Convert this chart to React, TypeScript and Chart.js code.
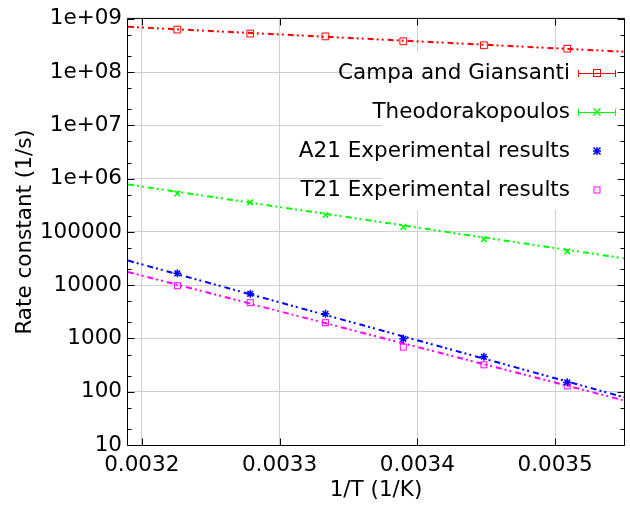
import React, { useEffect, useRef } from 'react';
import { Chart, registerables } from 'chart.js';

Chart.register(...registerables);

// 1/T values (1/K) of the measured points
const invT = [0.0032258, 0.0032787, 0.0033333, 0.0033898, 0.0034483, 0.0035088];
// Rate constants (1/s)
const campa = [6.3e8, 5.3e8, 4.7e8, 3.8e8, 3.2e8, 2.76e8];
const theo = [5.27e5, 3.6e5, 2.08e5, 1.24e5, 7.3e4, 4.3e4];
const a21 = [1.67e4, 6.9e3, 2.9e3, 985, 454, 150];
const t21 = [9.8e3, 4.7e3, 1.98e3, 690, 321, 129];
// Fitted Arrhenius lines (end points at the axis limits)
const fitX = [0.00319, 0.00355];
const campaFit = [7.1e8, 2.42e8];
const theoFit = [7.8e5, 3.2e4];
const a21Fit = [2.9e4, 79];
const t21Fit = [1.77e4, 68.6];
// Axes
const yTicks = [10, 100, 1000, 10000, 100000, 1e6, 1e7, 1e8, 1e9];
const yTickLabels = ['10', '100', '1000', '10000', '100000', '1e+06', '1e+07', '1e+08', '1e+09'];
const yMinorTicks = [20, 50, 200, 500, 2000, 5000, 2e4, 5e4, 2e5, 5e5, 2e6, 5e6, 2e7, 5e7, 2e8, 5e8];
const xTicks = [0.0032, 0.0033, 0.0034, 0.0035];
const xTickLabels = ['0.0032', '0.0033', '0.0034', '0.0035'];
const legendLabels = ['Campa and Giansanti', 'Theodorakopoulos', 'A21 Experimental results', 'T21 Experimental results'];

const RED = '#ff0000';
const GREEN = '#00ff00';
const BLUE = '#0000ff';
const MAGENTA = '#ff00ff';
const FONT = '"DejaVu Sans", sans-serif';
const FS = 21.5;
const DASH = [6, 3, 2, 3, 2, 4];

const pts = (xs: number[], ys: number[]) => xs.map((x, i) => ({ x, y: ys[i] }));

export default function App() {
  const ref = useRef<HTMLCanvasElement>(null);

  useEffect(() => {
    document.body.style.margin = '0';
    const canvas = ref.current!;

    const sqDot = document.createElement('canvas');
    sqDot.width = 11;
    sqDot.height = 11;
    const sc = sqDot.getContext('2d')!;
    sc.strokeStyle = MAGENTA;
    sc.lineWidth = 1;
    sc.strokeRect(2.5, 2.5, 6, 6);
    sc.fillStyle = MAGENTA;
    sc.fillRect(5, 5, 1, 1);

    const drawRect = (ctx: CanvasRenderingContext2D, x: number, y: number, color: string) => {
      ctx.strokeStyle = color;
      ctx.lineWidth = 1;
      ctx.strokeRect(Math.round(x) - 3.5, Math.round(y) - 3.5, 7, 7);
    };
    const drawX = (ctx: CanvasRenderingContext2D, x: number, y: number, color: string) => {
      ctx.strokeStyle = color;
      ctx.lineWidth = 1.5;
      ctx.beginPath();
      ctx.moveTo(x - 3.5, y - 3.5); ctx.lineTo(x + 3.5, y + 3.5);
      ctx.moveTo(x - 3.5, y + 3.5); ctx.lineTo(x + 3.5, y - 3.5);
      ctx.stroke();
    };
    const drawStar = (ctx: CanvasRenderingContext2D, x: number, y: number, color: string) => {
      ctx.strokeStyle = color;
      ctx.lineWidth = 1.5;
      ctx.beginPath();
      ctx.moveTo(x - 3.5, y - 3.5); ctx.lineTo(x + 3.5, y + 3.5);
      ctx.moveTo(x - 3.5, y + 3.5); ctx.lineTo(x + 3.5, y - 3.5);
      ctx.moveTo(x - 4, y); ctx.lineTo(x + 4, y);
      ctx.moveTo(x, y - 4); ctx.lineTo(x, y + 4);
      ctx.stroke();
    };

    const gnuplotPlugin = {
      id: 'gnuplotLook',
      beforeDraw(ch: any) {
        const { ctx, width, height } = ch;
        ctx.save();
        ctx.fillStyle = '#ffffff';
        ctx.fillRect(0, 0, width, height);
        ctx.restore();
      },
      beforeDatasetsDraw(ch: any) {
        const { ctx, chartArea } = ch;
        ctx.save();
        ctx.fillStyle = '#ffffff';
        ctx.fillRect(382, 52, chartArea.right - 382, 158);
        ctx.restore();
      },
      afterDatasetsDraw(ch: any) {
        const { ctx, chartArea } = ch;
        const { left, right, top, bottom } = chartArea;
        const ys = ch.scales.y;
        const xs = ch.scales.x;
        ctx.save();
        ctx.strokeStyle = '#000000';
        ctx.lineWidth = 1;
        ctx.beginPath();
        const L = left - 0.5, R = right + 0.5, T = top - 0.5, B = bottom + 0.5;
        ctx.moveTo(L, T); ctx.lineTo(R, T); ctx.lineTo(R, B); ctx.lineTo(L, B); ctx.closePath();
        yTicks.forEach((v) => {
          const p = Math.round(ys.getPixelForValue(v)) + 0.5;
          ctx.moveTo(L, p); ctx.lineTo(L + 7, p);
          ctx.moveTo(R, p); ctx.lineTo(R - 7, p);
        });
        yMinorTicks.forEach((v) => {
          const p = Math.round(ys.getPixelForValue(v)) + 0.5;
          ctx.moveTo(L, p); ctx.lineTo(L + 4, p);
          ctx.moveTo(R, p); ctx.lineTo(R - 4, p);
        });
        xTicks.forEach((v) => {
          const p = Math.round(xs.getPixelForValue(v)) + 0.5;
          ctx.moveTo(p, B); ctx.lineTo(p, B - 7);
          ctx.moveTo(p, T); ctx.lineTo(p, T + 7);
        });
        ctx.stroke();
        ctx.restore();
      },
      afterDraw(ch: any) {
        const { ctx } = ch;
        const baselines = [79, 118, 157, 196];
        ctx.save();
        ctx.font = `${FS}px ${FONT}`;
        ctx.fillStyle = '#000000';
        ctx.textAlign = 'right';
        ctx.textBaseline = 'alphabetic';
        legendLabels.forEach((t, i) => ctx.fillText(t, 570, baselines[i]));
        const mx = 597;
        const colors = [RED, GREEN];
        [0, 1].forEach((i) => {
          const y = Math.round(baselines[i] - 6) + 0.5;
          ctx.strokeStyle = colors[i];
          ctx.lineWidth = 1;
          ctx.beginPath();
          ctx.moveTo(578, y); ctx.lineTo(616, y);
          ctx.moveTo(578.5, y - 3.5); ctx.lineTo(578.5, y + 3.5);
          ctx.moveTo(615.5, y - 3.5); ctx.lineTo(615.5, y + 3.5);
          ctx.stroke();
        });
        drawRect(ctx, mx, baselines[0] - 6, RED);
        drawX(ctx, mx, baselines[1] - 6, GREEN);
        drawStar(ctx, mx, baselines[2] - 6, BLUE);
        ctx.drawImage(sqDot, mx - 5.5, baselines[3] - 6 - 5.5);
        ctx.restore();
      },
    };

    const lineDs = (data: { x: number; y: number }[], color: string) => ({
      type: 'line' as const,
      data,
      showLine: true,
      borderColor: color,
      borderWidth: 2,
      borderDash: DASH,
      pointRadius: 0,
      fill: false,
      tension: 0,
      order: 2,
    });

    const chart = new Chart(canvas, {
      type: 'scatter',
      data: {
        datasets: [
          lineDs(pts(fitX, campaFit), RED),
          lineDs(pts(fitX, theoFit), GREEN),
          lineDs(pts(fitX, a21Fit), BLUE),
          lineDs(pts(fitX, t21Fit), MAGENTA),
          {
            data: pts(invT, campa),
            pointStyle: 'rect',
            pointRadius: 4.8,
            borderColor: RED,
            backgroundColor: 'rgba(0,0,0,0)',
            borderWidth: 1,
            order: 1,
          },
          {
            data: pts(invT, theo),
            pointStyle: 'crossRot',
            pointRadius: 4,
            borderColor: GREEN,
            backgroundColor: GREEN,
            borderWidth: 1.5,
            order: 1,
          },
          {
            data: pts(invT, a21),
            pointStyle: 'star',
            pointRadius: 4,
            borderColor: BLUE,
            backgroundColor: BLUE,
            borderWidth: 1.5,
            order: 1,
          },
          {
            data: pts(invT, t21),
            pointStyle: sqDot as any,
            pointRadius: 5,
            borderColor: MAGENTA,
            backgroundColor: MAGENTA,
            order: 1,
          },
        ] as any,
      },
      options: {
        animation: false,
        responsive: false,
        maintainAspectRatio: false,
        events: [],
        layout: { padding: { top: 16, right: 6, left: 0, bottom: 0 } },
        plugins: {
          legend: { display: false },
          tooltip: { enabled: false },
        },
        scales: {
          x: {
            type: 'linear',
            min: 0.00319,
            max: 0.00355,
            afterBuildTicks: (axis: any) => {
              axis.ticks = xTicks.map((v) => ({ value: v }));
            },
            afterFit: (axis: any) => {
              axis.height = 63;
            },
            border: { display: false },
            grid: { color: '#d0d0d0', lineWidth: 1, drawTicks: false },
            ticks: {
              autoSkip: false,
              maxRotation: 0,
              padding: 8,
              color: '#000000',
              font: { family: FONT, size: FS },
              callback: (_v: any, i: number) => xTickLabels[i],
            },
            title: {
              display: true,
              text: '1/T (1/K)',
              color: '#000000',
              font: { family: FONT, size: FS },
              padding: { top: 0, bottom: 5 },
            },
          },
          y: {
            type: 'logarithmic',
            min: 10,
            max: 1e9,
            afterBuildTicks: (axis: any) => {
              axis.ticks = yTicks.map((v) => ({ value: v }));
            },
            afterFit: (axis: any) => {
              axis.width = 128;
            },
            border: { display: false },
            grid: { color: '#d0d0d0', lineWidth: 1, drawTicks: false },
            ticks: {
              autoSkip: false,
              padding: 6,
              color: '#000000',
              font: { family: FONT, size: FS },
              callback: (_v: any, i: number) => yTickLabels[i],
            },
            title: {
              display: true,
              text: 'Rate constant (1/s)',
              color: '#000000',
              font: { family: FONT, size: FS },
              padding: { top: 13, bottom: 0 },
            },
          },
        },
      } as any,
      plugins: [gnuplotPlugin],
    });

    return () => chart.destroy();
  }, []);

  return (
    <div style={{ width: 630, height: 508 }}>
      <canvas ref={ref} width={630} height={508} style={{ display: 'block', width: 630, height: 508 }} />
    </div>
  );
}
